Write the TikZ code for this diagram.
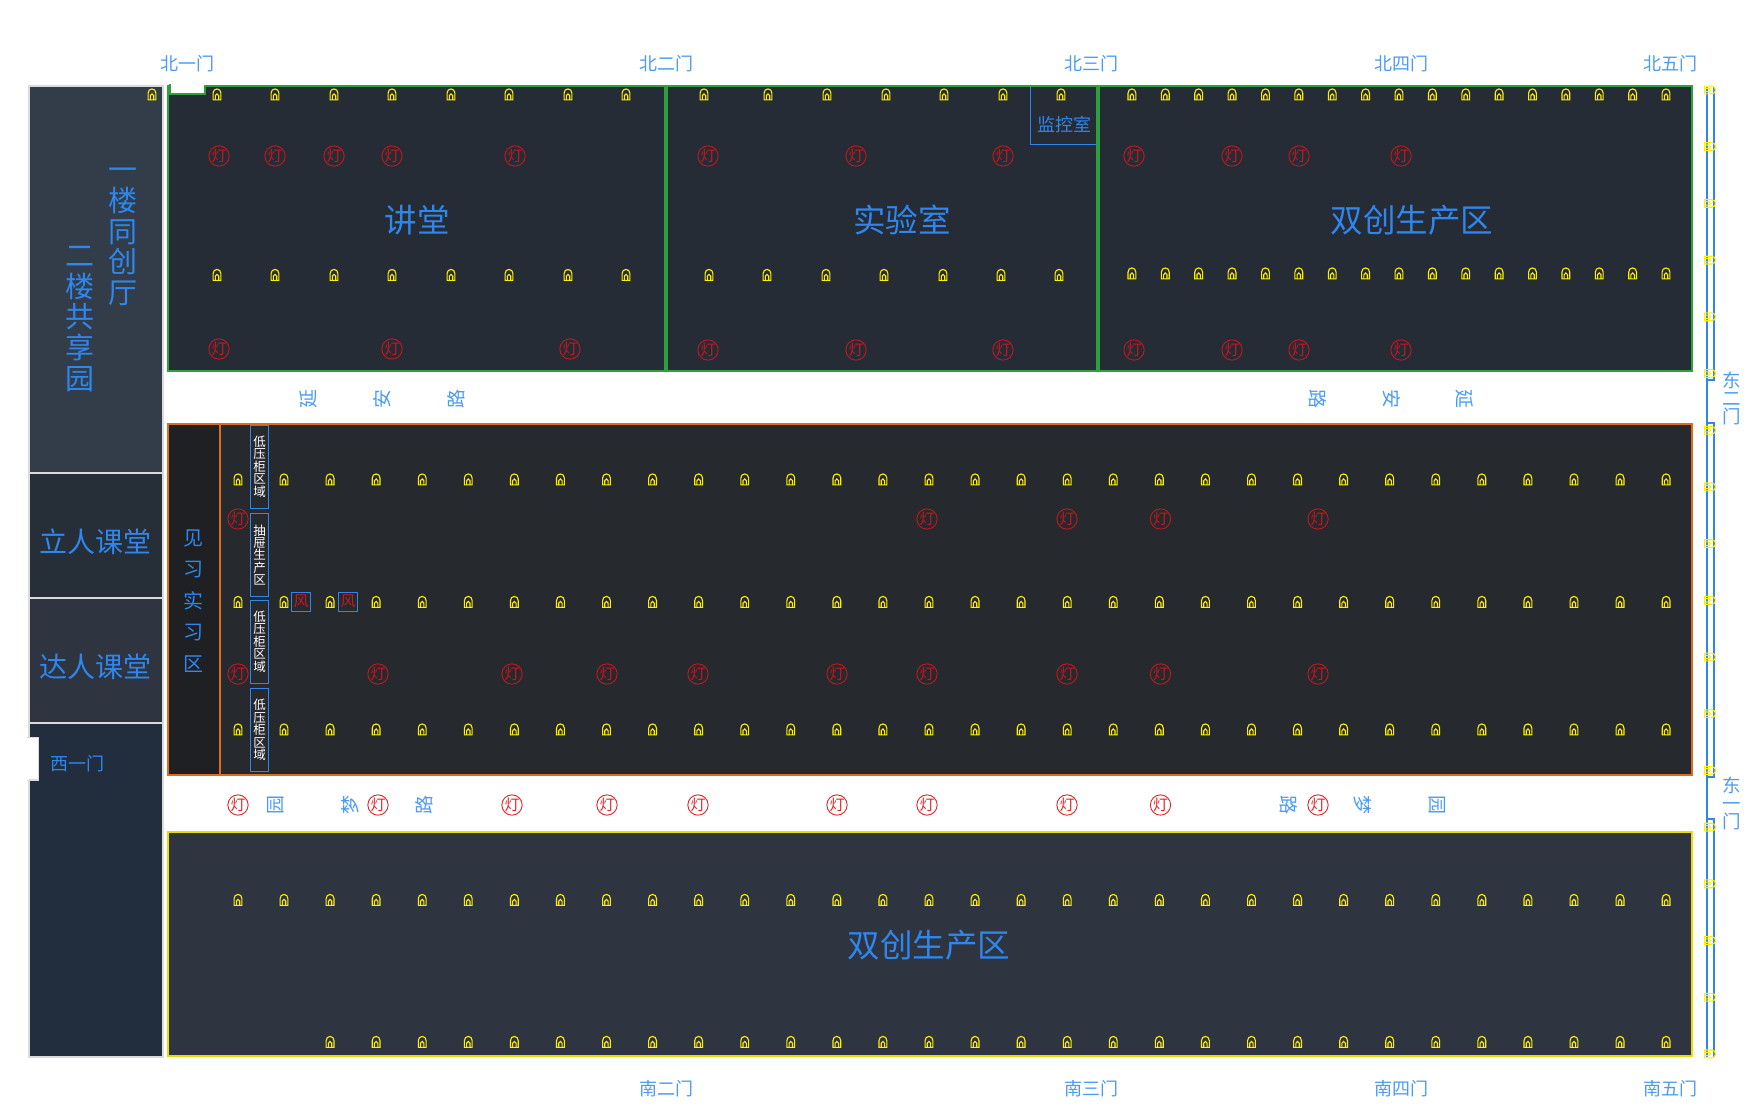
\documentclass[tikz,border=0pt]{standalone}
\usepackage{fontspec}
\setmainfont{Noto Sans CJK SC}
\definecolor{txtblue}{HTML}{2F86EC}
\definecolor{doorblue}{HTML}{4A9BF6}
\definecolor{lampyellow}{HTML}{FFF000}
\definecolor{lightred}{HTML}{C4181E}
\definecolor{roadred}{HTML}{E0242A}

\begin{document}
\begin{tikzpicture}[
  x=1pt, y=-1pt,
  inner sep=0pt,
  lampline/.style={draw=lampyellow, line width=1.1pt},
  lamp/.pic={
    \draw[lampline] (-3.9,5.4) -- (-3.9,-1.4) .. controls (-3.9,-3.8) and (-2.2,-5.6) .. (0,-5.6) .. controls (2.2,-5.6) and (3.9,-3.8) .. (3.9,-1.4) -- (3.9,5.4) -- cycle;
    \draw[lampline] (-1.7,5.4) -- (-1.7,1.2) .. controls (-1.7,0.2) and (-0.9,-0.6) .. (0,-0.6) .. controls (0.9,-0.6) and (1.7,0.2) .. (1.7,1.2) -- (1.7,5.4);
  },
  light/.style={circle, draw=lightred, text=lightred, line width=0.9pt, minimum size=19.5pt, font=\fontsize{15}{15}\selectfont},
  roadlight/.style={light, draw=roadred, text=roadred},
  roomtitle/.style={text=txtblue, font=\fontsize{32.5}{32.5}\selectfont},
  panelname/.style={text=txtblue, font=\fontsize{28}{28}\selectfont},
  panelstack/.style={panelname, align=center, font=\fontsize{29}{30.7}\selectfont},
  doorname/.style={text=doorblue, font=\fontsize{18}{18}\selectfont},
  doorstack/.style={doorname, align=center, font=\fontsize{18.5}{18}\selectfont},
  roadname/.style={text=doorblue, font=\fontsize{19}{19}\selectfont},
  roadleft/.style={roadname, rotate=90},
  roadright/.style={roadname, rotate=-90},
  cabinet/.style={draw=txtblue, line width=1pt, minimum width=18pt, minimum height=83pt, align=center, text=white, font=\fontsize{12.5}{12.4}\selectfont},
  fanbox/.style={draw=txtblue, line width=1pt, minimum size=19pt, text=lightred, font=\fontsize{15}{15}\selectfont},
]

\useasboundingbox (0,0) rectangle (1750,1110);

% Left hall
\fill[fill={rgb,255:red,50;green,61;blue,73}] (29,86) rectangle (162.5,473);
\fill[fill={rgb,255:red,38;green,46;blue,56}] (29,473) rectangle (162.5,598);
\fill[fill={rgb,255:red,46;green,53;blue,64}] (29,598) rectangle (162.5,723);
\fill[fill={rgb,255:red,34;green,46;blue,62}] (29,723) rectangle (162.5,1057);
\draw[draw=black!14, line width=2pt] (29,86) rectangle (162.5,1057);
\draw[draw=black!14, line width=2pt] (29,473) -- (162.5,473);
\draw[draw=black!14, line width=2pt] (29,598) -- (162.5,598);
\draw[draw=black!14, line width=2pt] (29,723) -- (162.5,723);
\filldraw[fill=white, draw=black!14, line width=1.5pt] (27,737.5) -- (38.5,737.5) -- (38.5,780) -- (27,780);
\fill[white] (26,738) rectangle (29,779.5);
\node[panelstack] (hall_one) at (123,237) {一\\楼\\同\\创\\厅};
\node[panelstack] (hall_two) at (80,319) {二\\楼\\共\\享\\园};
\node[panelname] (class_li) at (95.5,542) {立人课堂};
\node[panelname] (class_da) at (95.5,667) {达人课堂};
\node[doorname, text=txtblue] (door_w1) at (77.5,764) {西一门};
\pic at (152,94.5) {lamp};

% North rooms
\filldraw[fill={rgb,255:red,38;green,44;blue,54}, draw={rgb,255:red,46;green,160;blue,62}, line width=2pt] (168,86) rectangle (1692,371);
\draw[draw={rgb,255:red,46;green,160;blue,62}, line width=4pt] (666,86) -- (666,371);
\draw[draw={rgb,255:red,46;green,160;blue,62}, line width=4pt] (1098,86) -- (1098,371);
\fill[white] (171,84) rectangle (204,93);
\draw[draw={rgb,255:red,46;green,160;blue,62}, line width=2pt] (170,84) -- (170,94) -- (205,94) -- (205,86);
\draw[draw=txtblue, line width=0.9pt] (1030.5,87) -- (1030.5,144.5) -- (1096,144.5);
\node[roomtitle] (room_talk) at (417,220) {讲堂};
\node[roomtitle] (room_lab) at (902,220) {实验室};
\node[roomtitle] (room_north) at (1412,220) {双创生产区};
\node[text=txtblue, font=\fontsize{18}{18}\selectfont] (room_watch) at (1064.5,124.5) {监控室};
\foreach \x in {217,275,334,392,451,509,568,626} {
  \pic at (\x,94.5) {lamp};
  \pic at (\x,275) {lamp};
}
\foreach \x in {704,768,827,886,944,1003,1061} \pic at (\x,94.5) {lamp};
\foreach \x in {709,767,826,884,943,1001,1059} \pic at (\x,275) {lamp};
\foreach \k in {0,...,16} {
  \pic at ({1666-33.38*\k},94.5) {lamp};
  \pic at ({1666-33.38*\k},273.5) {lamp};
}
\foreach \x in {219,275,334,392,515} \node[light] (talk_a\x) at (\x,156) {灯};
\foreach \x in {219,392,570} \node[light] (talk_b\x) at (\x,349) {灯};
\foreach \x in {708,856,1003,1134,1232,1299,1401} {
  \node[light] (north_a\x) at (\x,156) {灯};
  \node[light] (north_b\x) at (\x,350) {灯};
}

% Middle workshop
\filldraw[fill={rgb,255:red,38;green,41;blue,46}, draw={rgb,255:red,221;green,107;blue,32}, line width=2pt] (168,424) rectangle (1692,774.5);
\fill[fill={rgb,255:red,30;green,32;blue,36}] (169,425) rectangle (219,773.5);
\draw[draw={rgb,255:red,221;green,107;blue,32}, line width=1.6pt] (220,424) -- (220,774.5);
\node[text=txtblue, align=center, font=\fontsize{20}{31.6}\selectfont] (room_intern) at (193,601) {见\\习\\实\\习\\区};
\node[cabinet] (cab_a) at (259.5,466.5) {低\\压\\柜\\区\\域};
\node[cabinet] (cab_b) at (259.5,555) {抽\\屉\\生\\产\\区};
\node[cabinet] (cab_c) at (259.5,641.5) {低\\压\\柜\\区\\域};
\node[cabinet] (cab_d) at (259.5,730) {低\\压\\柜\\区\\域};
\node[fanbox] (fan_a) at (301,601.5) {风};
\node[fanbox] (fan_b) at (348,601.5) {风};
\foreach \y in {479.5,602,729.5} {
  \pic at (238,\y) {lamp};
  \foreach \k in {0,...,30} \pic at ({284+46.07*\k},\y) {lamp};
}
\foreach \x in {238,927,1067,1160.5,1318} \node[light] (mid_a\x) at (\x,519) {灯};
\foreach \x in {238,378,512,607,698,837,927,1067,1160.5,1318} {
  \node[light] (mid_b\x) at (\x,674) {灯};
  \node[roadlight] (road_\x) at (\x,805) {灯};
  \node[light] (south_\x) at (\x,990) {灯};
}

% Roads
\node[roadleft] (road_a1) at (308,399) {延};
\node[roadleft] (road_a2) at (382,399) {安};
\node[roadleft] (road_a3) at (456.5,399) {路};
\node[roadright] (road_b1) at (1317.5,399) {路};
\node[roadright] (road_b2) at (1391.5,399) {安};
\node[roadright] (road_b3) at (1465,399) {延};
\node[roadleft] (road_c1) at (276,805) {园};
\node[roadleft] (road_c2) at (350,805) {梦};
\node[roadleft] (road_c3) at (424,805) {路};
\node[roadright] (road_d1) at (1288.5,805) {路};
\node[roadright] (road_d2) at (1362.5,805) {梦};
\node[roadright] (road_d3) at (1437,805) {园};

% South room
\filldraw[fill={rgb,255:red,46;green,53;blue,65}, draw=lampyellow!92!black, line width=2pt] (168,832) rectangle (1692,1056);
\node[roomtitle] (room_south) at (929,945) {双创生产区};
\foreach \k in {0,...,30} \pic at ({284+46.07*\k},900) {lamp};
\pic at (238,900) {lamp};
\foreach \k in {1,...,30} \pic at ({284+46.07*\k},1042) {lamp};

% Door names
\foreach \x/\t/\n in {187.5/北一门/n1,666.5/北二门/n2,1091.5/北三门/n3,1401.5/北四门/n4,1670.5/北五门/n5}
  \node[doorname] (door_\n) at (\x,63.5) {\t};
\foreach \x/\t/\n in {666.5/南二门/s2,1091.5/南三门/s3,1401.5/南四门/s4,1670.5/南五门/s5}
  \node[doorname] (door_\n) at (\x,1088.5) {\t};
\node[doorstack] (door_e2) at (1732,398) {东\\二\\门};
\node[doorstack] (door_e1) at (1732,803) {东\\一\\门};

% East corridor
\draw[draw=txtblue, line width=2pt] (1706.5,87) -- (1706.5,1057);
\draw[draw=txtblue, line width=2pt] (1714,87) -- (1714,380) -- (1706.5,380);
\draw[draw=txtblue, line width=2pt] (1706.5,423) -- (1714,423) -- (1714,777) -- (1706.5,777);
\draw[draw=txtblue, line width=2pt] (1706.5,819) -- (1714,819) -- (1714,1057);
\foreach \k in {0,...,17} \pic[rotate=-90] at ({1710},{90+56.7*\k}) {lamp};

\end{tikzpicture}
\end{document}
